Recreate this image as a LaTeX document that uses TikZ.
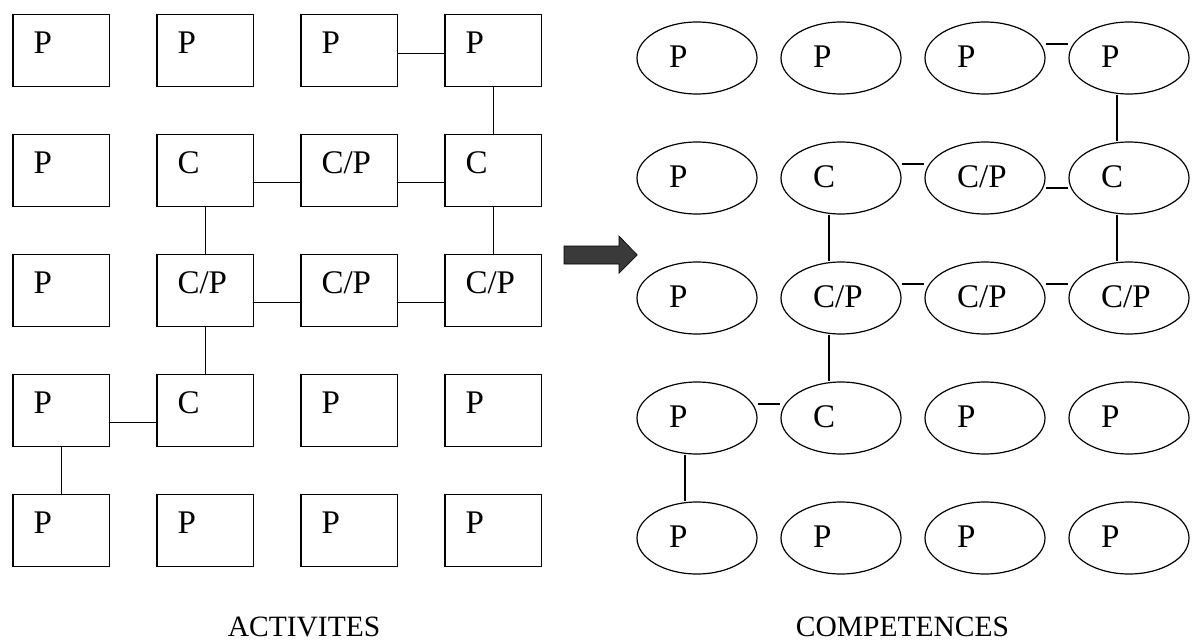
\documentclass[tikz,border=0pt]{standalone}
\usepackage{fontspec}
\setmainfont{Liberation Serif}
\usetikzlibrary{shapes.geometric,calc}
\definecolor{arrowgray}{RGB}{58,58,58}
\begin{document}
\begin{tikzpicture}[x=1pt,y=-1pt,
  txt/.style={inner sep=0pt, font=\fontsize{33}{38}\selectfont},
  rbox/.style={draw, line width=1.3pt, rectangle, minimum width=96.4pt, minimum height=72pt,
    inner sep=0pt, anchor=north west,
    label={[txt, anchor=base west, xshift=21pt, yshift=-39pt]north west:#1}},
  ebox/.style={draw, line width=1.2pt, ellipse, minimum width=120pt, minimum height=72pt,
    inner sep=0pt,
    label={[txt, anchor=base west, xshift=32.5pt, yshift=-9.5pt]west:#1}},
  link/.style={line width=1.2pt},
  lbl/.style={inner sep=0pt, font=\fontsize{29.5}{34}\selectfont, anchor=base},
  bigarrow/.style={fill=arrowgray, draw=black, line width=0.6pt}
]
\useasboundingbox (0,0) rectangle (1193,642);

% ---- rectangles (ACTIVITES)
\node[rbox=P]   (a11) at (12.3,14) {};
\node[rbox=P]   (a12) at (156.3,14) {};
\node[rbox=P]   (a13) at (300.3,14) {};
\node[rbox=P]   (a14) at (444.3,14) {};
\node[rbox=P]   (a21) at (12.3,134) {};
\node[rbox=C]   (a22) at (156.3,134) {};
\node[rbox=C/P] (a23) at (300.3,134) {};
\node[rbox=C]   (a24) at (444.3,134) {};
\node[rbox=P]   (a31) at (12.3,254) {};
\node[rbox=C/P] (a32) at (156.3,254) {};
\node[rbox=C/P] (a33) at (300.3,254) {};
\node[rbox=C/P] (a34) at (444.3,254) {};
\node[rbox=P]   (a41) at (12.3,374) {};
\node[rbox=C]   (a42) at (156.3,374) {};
\node[rbox=P]   (a43) at (300.3,374) {};
\node[rbox=P]   (a44) at (444.3,374) {};
\node[rbox=P]   (a51) at (12.3,494) {};
\node[rbox=P]   (a52) at (156.3,494) {};
\node[rbox=P]   (a53) at (300.3,494) {};
\node[rbox=P]   (a54) at (444.3,494) {};

\draw[link] ($(a13.east)+(0,3)$) -- ($(a14.west)+(0,3)$);
\draw[link] ($(a22.east)+(0,12)$) -- ($(a23.west)+(0,12)$);
\draw[link] ($(a23.east)+(0,12)$) -- ($(a24.west)+(0,12)$);
\draw[link] ($(a32.east)+(0,12)$) -- ($(a33.west)+(0,12)$);
\draw[link] ($(a33.east)+(0,12)$) -- ($(a34.west)+(0,12)$);
\draw[link] ($(a41.east)+(0,12)$) -- ($(a42.west)+(0,12)$);
\draw[link] (a14.south) -- (a24.north);
\draw[link] (a24.south) -- (a34.north);
\draw[link] (a22.south) -- (a32.north);
\draw[link] (a32.south) -- (a42.north);
\draw[link] (a41.south) -- (a51.north);

% ---- ellipses (COMPETENCES)
\node[ebox=P]   (b11) at (697,58) {};
\node[ebox=P]   (b12) at (841,58) {};
\node[ebox=P]   (b13) at (985,58) {};
\node[ebox=P]   (b14) at (1129,58) {};
\node[ebox=P]   (b21) at (697,178) {};
\node[ebox=C]   (b22) at (841,178) {};
\node[ebox=C/P] (b23) at (985,178) {};
\node[ebox=C]   (b24) at (1129,178) {};
\node[ebox=P]   (b31) at (697,298) {};
\node[ebox=C/P] (b32) at (841,298) {};
\node[ebox=C/P] (b33) at (985,298) {};
\node[ebox=C/P] (b34) at (1129,298) {};
\node[ebox=P]   (b41) at (697,418) {};
\node[ebox=C]   (b42) at (841,418) {};
\node[ebox=P]   (b43) at (985,418) {};
\node[ebox=P]   (b44) at (1129,418) {};
\node[ebox=P]   (b51) at (697,538) {};
\node[ebox=P]   (b52) at (841,538) {};
\node[ebox=P]   (b53) at (985,538) {};
\node[ebox=P]   (b54) at (1129,538) {};

\draw[link] ($(b13.east)+(0,-14)$) -- ($(b14.west)+(0,-14)$);
\draw[link] ($(b22.east)+(0,-14)$) -- ($(b23.west)+(0,-14)$);
\draw[link] ($(b23.east)+(0,10)$) -- ($(b24.west)+(0,10)$);
\draw[link] ($(b32.east)+(0,-14)$) -- ($(b33.west)+(0,-14)$);
\draw[link] ($(b33.east)+(0,-14)$) -- ($(b34.west)+(0,-14)$);
\draw[link] ($(b41.east)+(0,-14)$) -- ($(b42.west)+(0,-14)$);
\draw[link] ($(b14.south)+(-12,0)$) -- ($(b24.north)+(-12,0)$);
\draw[link] ($(b24.south)+(-12,0)$) -- ($(b34.north)+(-12,0)$);
\draw[link] ($(b22.south)+(-12,0)$) -- ($(b32.north)+(-12,0)$);
\draw[link] ($(b32.south)+(-12,0)$) -- ($(b42.north)+(-12,0)$);
\draw[link] ($(b41.south)+(-12,0)$) -- ($(b51.north)+(-12,0)$);

% ---- block arrow
\draw[bigarrow] (564,246) -- (619,246) -- (619,236) -- (637.3,255) -- (619,273.3)
  -- (619,264) -- (564,264) -- cycle;

% ---- captions
\node[lbl] (cap1) at (304,636.5) {ACTIVITES};
\node[lbl] (cap2) at (902.5,636.5) {COMPETENCES};
\end{tikzpicture}
\end{document}
